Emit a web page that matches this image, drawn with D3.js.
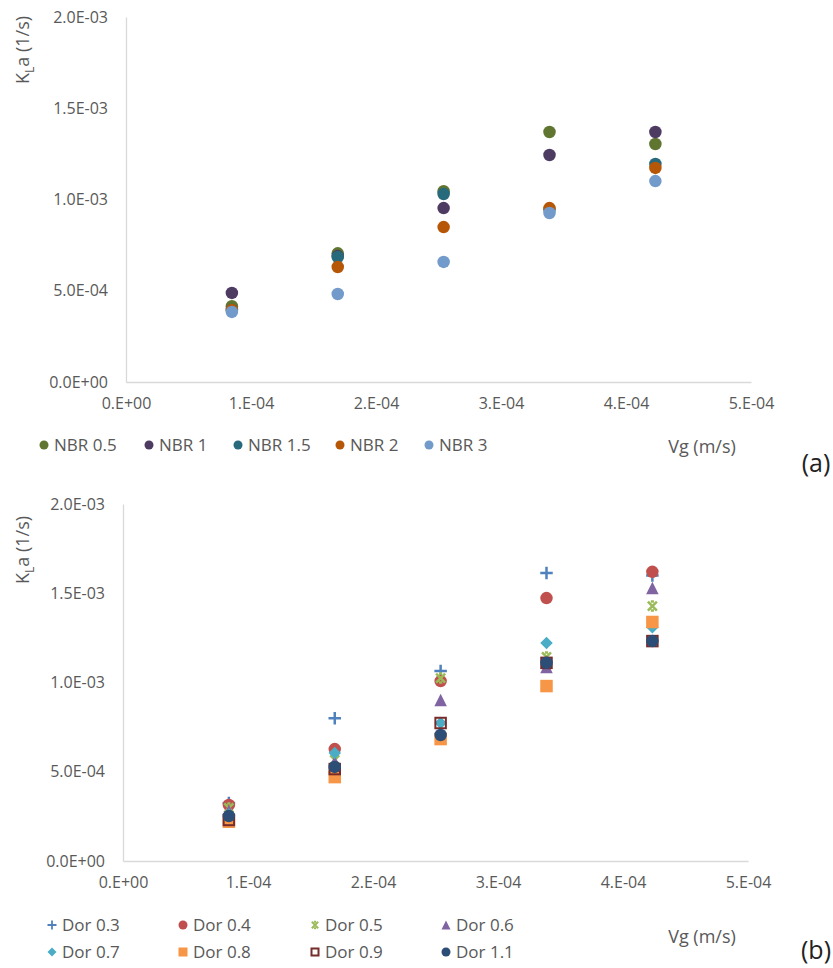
<!DOCTYPE html>
<html>
<head>
<meta charset="utf-8">
<script src="https://cdn.jsdelivr.net/npm/d3@7"></script>
<style>
  html, body { margin: 0; padding: 0; background: #fff; }
  svg text { font-family: "Open Sans", "Noto Sans", sans-serif; }
</style>
</head>
<body>
<svg id="chart" width="833" height="968"></svg>
<script>
// Superficial gas velocity (m/s)
const vg = [0.847e-4, 1.694e-4, 2.541e-4, 3.388e-4, 4.235e-4];

// Panel (a): KLa (1/s) for each NBR
const nbrNames = ["NBR 0.5", "NBR 1", "NBR 1.5", "NBR 2", "NBR 3"];
const nbr05 = [4.15e-4, 7.05e-4, 1.045e-3, 1.370e-3, 1.304e-3];
const nbr1  = [4.88e-4, 6.90e-4, 9.53e-4, 1.244e-3, 1.370e-3];
const nbr15 = [3.95e-4, 6.85e-4, 1.030e-3, 9.45e-4, 1.195e-3];
const nbr2  = [3.95e-4, 6.30e-4, 8.49e-4, 9.53e-4, 1.173e-3];
const nbr3  = [3.84e-4, 4.82e-4, 6.58e-4, 9.26e-4, 1.101e-3];

// Panel (b): KLa (1/s) for each Dor
const dorNames = ["Dor 0.3", "Dor 0.4", "Dor 0.5", "Dor 0.6", "Dor 0.7", "Dor 0.8", "Dor 0.9", "Dor 1.1"];
const dor03 = [3.25e-4, 8.00e-4, 1.064e-3, 1.613e-3, 1.600e-3];
const dor04 = [3.14e-4, 6.27e-4, 1.008e-3, 1.473e-3, 1.620e-3];
const dor05 = [2.97e-4, 5.66e-4, 1.025e-3, 1.143e-3, 1.428e-3];
const dor06 = [2.80e-4, 5.55e-4, 9.02e-4, 1.087e-3, 1.529e-3];
const dor07 = [2.60e-4, 6.05e-4, 7.73e-4, 1.221e-3, 1.310e-3];
const dor08 = [2.20e-4, 4.70e-4, 6.83e-4, 9.80e-4, 1.339e-3];
const dor09 = [2.30e-4, 5.15e-4, 7.73e-4, 1.110e-3, 1.232e-3];
const dor11 = [2.52e-4, 5.27e-4, 7.06e-4, 1.110e-3, 1.232e-3];

// Axis tick values and labels
const yTicks = [0, 5e-4, 1e-3, 1.5e-3, 2e-3];
const yTickLabels = ["0.0E+00", "5.0E-04", "1.0E-03", "1.5E-03", "2.0E-03"];
const xTicks = [0, 1e-4, 2e-4, 3e-4, 4e-4, 5e-4];
const xTickLabels = ["0.E+00", "1.E-04", "2.E-04", "3.E-04", "4.E-04", "5.E-04"];

const nbrSeries = [nbr05, nbr1, nbr15, nbr2, nbr3];
const nbrColors = ["#5F7530", "#4D3B62", "#276A7C", "#B65708", "#729ACA"];

const dorSeries = [dor03, dor04, dor05, dor06, dor07, dor08, dor09, dor11];
const dorColors = ["#4F81BD", "#C0504D", "#9BBB59", "#8064A2", "#4BACC6", "#F79646", "#772C2A", "#2C4D75"];
const dorShapes = ["plus", "circle", "star", "triangle", "diamond", "square", "hollowSquare", "circle"];

const svg = d3.select("#chart");
const axisColor = "#D9D9D9";
const textColor = "#595959";

// Draw one marker of the given shape centred at (0,0) inside group g
function marker(g, shape, color, s) {
  const h = s / 2;
  switch (shape) {
    case "circle":
      g.append("circle").attr("r", h).attr("fill", color);
      break;
    case "square":
      g.append("rect").attr("x", -h).attr("y", -h).attr("width", s).attr("height", s).attr("fill", color);
      break;
    case "hollowSquare":
      g.append("rect").attr("x", -h + 1).attr("y", -h + 1).attr("width", s - 2).attr("height", s - 2)
        .attr("fill", "none").attr("stroke", color).attr("stroke-width", 2);
      break;
    case "diamond":
      g.append("path").attr("d", `M0,${-h}L${h},0L0,${h}L${-h},0Z`).attr("fill", color);
      break;
    case "triangle":
      g.append("path").attr("d", `M0,${-h}L${h},${h}L${-h},${h}Z`).attr("fill", color);
      break;
    case "plus":
      g.append("path").attr("d", `M${-h},0H${h}M0,${-h}V${h}`).attr("stroke", color)
        .attr("stroke-width", Math.max(1.6, s / 5)).attr("fill", "none");
      break;
    case "star": {
      const k = h * 0.72;
      const c = k * 0.35;
      g.append("path").attr("d", `M${-k},${-k}L${k},${k}M${k},${-k}L${-k},${k}M${-c},${-k}H${c}M${-c},${k}H${c}`)
        .attr("stroke", color).attr("stroke-width", Math.max(1.6, s / 5)).attr("fill", "none");
      break;
    }
  }
}

// One scatter panel
function panel(cfg) {
  const x = d3.scaleLinear().domain([0, 5e-4]).range([cfg.x0, cfg.x1]);
  const y = d3.scaleLinear().domain([0, 2e-3]).range([cfg.y0, cfg.y1]);
  const g = svg.append("g");

  const yAxis = d3.axisLeft(y).tickValues(yTicks).tickSize(0).tickPadding(18)
    .tickFormat((d, i) => yTickLabels[i]);
  const ya = g.append("g").attr("transform", `translate(${cfg.x0},0)`).call(yAxis);
  ya.select(".domain").attr("stroke", axisColor).attr("stroke-width", 1.3);
  ya.selectAll("text").attr("fill", textColor).attr("font-size", 16);

  const xAxis = d3.axisBottom(x).tickValues(xTicks).tickSize(0).tickPadding(16)
    .tickFormat((d, i) => xTickLabels[i]);
  const xa = g.append("g").attr("transform", `translate(0,${cfg.y0})`).call(xAxis);
  xa.select(".domain").attr("stroke", axisColor).attr("stroke-width", 1.3);
  xa.selectAll("text").attr("fill", textColor).attr("font-size", 16);

  // Points: later series drawn over earlier ones
  cfg.series.forEach((vals, si) => {
    vals.forEach((v, i) => {
      const m = g.append("g").attr("transform", `translate(${x(vg[i])},${y(v)})`);
      marker(m, cfg.shapes[si], cfg.colors[si], cfg.size);
    });
  });

  // Y axis title: KLa (1/s)
  const yt = g.append("text")
    .attr("transform", `translate(${cfg.ytX},${cfg.ytY}) rotate(-90)`)
    .attr("text-anchor", "middle").attr("fill", textColor).attr("font-size", 18);
  yt.append("tspan").text("K");
  yt.append("tspan").attr("font-size", 12).attr("dy", 5).text("L");
  yt.append("tspan").attr("dy", -5).text("a (1/s)");

  // X axis title
  g.append("text").attr("x", 702).attr("y", cfg.vgY).attr("dy", "0.35em")
    .attr("text-anchor", "middle").attr("fill", textColor).attr("font-size", 18).text("Vg (m/s)");

  // Panel letter
  g.append("text").attr("x", 816).attr("y", cfg.tagY).attr("dy", "0.35em")
    .attr("text-anchor", "middle").attr("fill", "#222").attr("font-size", 25).text(cfg.tag);

  // Legend
  cfg.names.forEach((name, i) => {
    const lx = cfg.legX[i], ly = cfg.legY[i];
    const m = g.append("g").attr("transform", `translate(${lx},${ly})`);
    marker(m, cfg.shapes[i], cfg.colors[i], cfg.legSize);
    g.append("text").attr("x", lx + 10).attr("y", ly).attr("dy", "0.35em")
      .attr("fill", textColor).attr("font-size", 17).text(name);
  });
}

panel({
  x0: 126, x1: 751, y0: 382, y1: 17,
  series: nbrSeries, colors: nbrColors, shapes: nbrNames.map(() => "circle"),
  names: nbrNames, size: 12.5, legSize: 9,
  legX: [44, 149, 238, 340, 429], legY: [445, 445, 445, 445, 445],
  ytX: 29, ytY: 50, vgY: 447, tag: "(a)", tagY: 463
});

panel({
  x0: 123, x1: 748, y0: 861, y1: 504,
  series: dorSeries, colors: dorColors, shapes: dorShapes,
  names: dorNames, size: 12.5, legSize: 9,
  legX: [52, 183, 315, 446, 52, 183, 315, 446], legY: [925, 925, 925, 925, 952, 952, 952, 952],
  ytX: 29, ytY: 550, vgY: 937, tag: "(b)", tagY: 950
});
</script>
</body>
</html>
